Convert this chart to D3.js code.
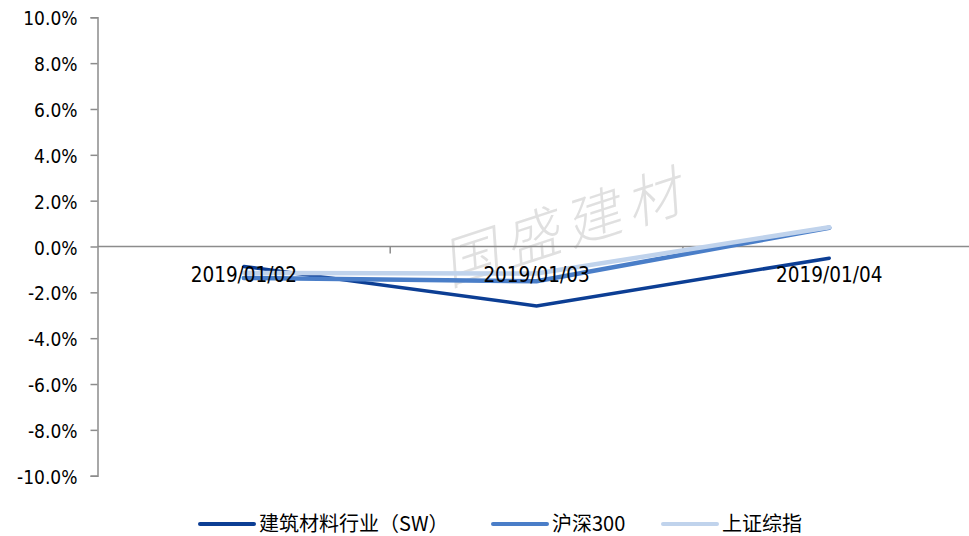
<!DOCTYPE html>
<html>
<head>
<meta charset="utf-8">
<script src="https://cdn.jsdelivr.net/npm/d3@7"></script>
<style>
  body { margin: 0; background: #fff; }
  svg { display: block; }
  .axis-label { font-family: "DejaVu Sans Condensed", "DejaVu Sans", sans-serif; fill: #000; }
  .legend-label { font-family: "Noto Sans CJK SC", sans-serif; font-size: 20px; fill: #000; }
</style>
</head>
<body>
<div id="chart"></div>
<script>
// chart data
const dates = ["2019/01/02", "2019/01/03", "2019/01/04"];
const seriesNames = ["建筑材料行业（SW）", "沪深300", "上证综指"];
const jiancai = [-0.87, -2.59, -0.51];
const hs300 = [-1.37, -1.52, 0.82];
const szzz = [-1.15, -1.18, 0.84];
const yTicks = [-10, -8, -6, -4, -2, 0, 2, 4, 6, 8, 10];
const colors = ["#0c3e94", "#4a7ec8", "#c0d3ec"];
const widths = [3.5, 4.5, 4.5];

const width = 969, height = 536;

const svg = d3.select("#chart")
  .append("svg")
  .attr("width", width)
  .attr("height", height);

const x = d3.scaleBand().domain(dates).range([97.5, 975.6]);
const y = d3.scaleLinear().domain([-10, 10]).range([475.7, 17.3]);

// watermark
svg.append("g")
  .attr("transform", "translate(570,226) rotate(-18) skewX(-14)")
  .append("text")
  .attr("text-anchor", "middle")
  .attr("dy", "0.35em")
  .style("font-family", "'Noto Sans CJK SC', sans-serif")
  .style("font-weight", 300)
  .style("font-size", "56px")
  .style("letter-spacing", "8px")
  .style("fill", "#e0e0e0")
  .text("国盛建材");

// y axis
const yAxis = svg.append("g")
  .attr("transform", `translate(${x.range()[0]},0)`)
  .call(d3.axisLeft(y).tickValues(yTicks).tickSize(7).tickPadding(13)
    .tickFormat(d => d.toFixed(1) + "%"));
yAxis.select(".domain").attr("stroke", "#8c8c8c").attr("stroke-width", 1.5);
yAxis.selectAll(".tick line").attr("stroke", "#8c8c8c").attr("stroke-width", 1.5);
yAxis.selectAll(".tick text")
  .attr("class", "axis-label")
  .attr("dy", "0.4em")
  .style("font-size", "19px");

// zero line with category ticks
const xAxis = svg.append("g")
  .attr("transform", `translate(0,${y(0)})`);
xAxis.append("line")
  .attr("x1", x.range()[0]).attr("x2", x.range()[1])
  .attr("stroke", "#8c8c8c").attr("stroke-width", 1.5);
xAxis.selectAll(".cat-tick")
  .data(dates.slice(1))
  .enter()
  .append("line")
  .attr("class", "cat-tick")
  .attr("x1", d => x(d)).attr("x2", d => x(d))
  .attr("y1", 0).attr("y2", 7)
  .attr("stroke", "#8c8c8c").attr("stroke-width", 1.5);

// lines
const line = d3.line()
  .x((d, i) => x(dates[i]) + x.bandwidth() / 2)
  .y(d => y(d));

[jiancai, hs300, szzz].forEach((vals, i) => {
  svg.append("path")
    .datum(vals)
    .attr("d", line)
    .attr("fill", "none")
    .attr("stroke", colors[i])
    .attr("stroke-width", widths[i])
    .attr("stroke-linecap", "round")
    .attr("stroke-linejoin", "miter");
});

// category labels
svg.append("g").selectAll("text")
  .data(dates)
  .enter()
  .append("text")
  .attr("class", "axis-label")
  .attr("x", d => x(d) + x.bandwidth() / 2)
  .attr("y", y(0) + 35)
  .attr("text-anchor", "middle")
  .style("font-size", "20.5px")
  .text(d => d);

// legend
const legendX = [200, 493, 663];
const legend = svg.append("g").selectAll("g")
  .data(seriesNames)
  .enter()
  .append("g")
  .attr("transform", (d, i) => `translate(${legendX[i]},524)`);

legend.append("line")
  .attr("x1", 0).attr("x2", 54)
  .attr("stroke", (d, i) => colors[i])
  .attr("stroke-width", 4)
  .attr("stroke-linecap", "round");

legend.append("text")
  .attr("class", "legend-label")
  .attr("x", 59)
  .attr("y", 7)
  .text(d => d);
</script>
</body>
</html>
